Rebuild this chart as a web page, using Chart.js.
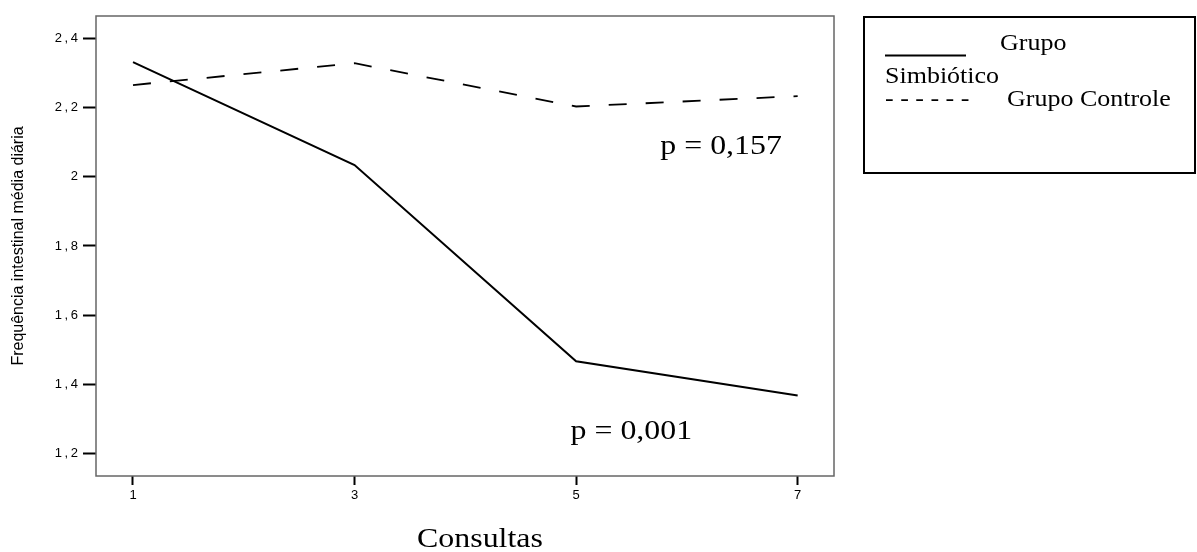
<!DOCTYPE html>
<html>
<head>
<meta charset="utf-8">
<script src="https://cdn.jsdelivr.net/npm/chart.js@4"></script>
<style>
  html, body { margin: 0; padding: 0; background: #fff; }
  #wrap { width: 1197px; height: 552px; position: relative; }
</style>
</head>
<body>
<div id="wrap"><canvas id="freqChart"></canvas></div>
<script>
// values
const consultas = [1, 3, 5, 7];
const simbiotico = [2.331, 2.034, 1.467, 1.368];
const controle = [2.265, 2.328, 2.203, 2.233];
const yTicks = [1.2, 1.4, 1.6, 1.8, 2.0, 2.2, 2.4];
const seriesNames = ["Grupo Simbiótico", "Grupo Controle"];
const xTitle = "Consultas";
const pLabels = ["p = 0,157", "p = 0,001"];
const pAnchors = [[5.76, 2.066], [4.95, 1.243]]; // left / baseline, in data units

function stretchText(ctx, text, x, y, size, sx) {
    ctx.save();
    ctx.translate(x, y);
    ctx.scale(sx, 1);
    ctx.font = size + 'px "Liberation Serif"';
    ctx.fillStyle = "#000";
    ctx.textAlign = "left";
    ctx.textBaseline = "alphabetic";
    ctx.fillText(text, 0, 0);
    ctx.restore();
}

const frame = {
    id: "frame",
    beforeDatasetsDraw(chart) {
        const {ctx, chartArea: a} = chart;
        ctx.save();
        ctx.strokeStyle = "#666";
        ctx.lineWidth = 1.5;
        ctx.strokeRect(a.left, a.top, a.right - a.left, a.bottom - a.top);
        ctx.restore();
    },
    afterDraw(chart) {
        const ctx = chart.ctx;
        const x = chart.scales.x, y = chart.scales.y;
        // p values
        pLabels.forEach((t, i) => {
            stretchText(ctx, t, x.getPixelForValue(pAnchors[i][0]), y.getPixelForValue(pAnchors[i][1]), 27, 1.18);
        });
        // x axis title, sits a bit right of centre in the original
        stretchText(ctx, xTitle, 417, 547, 28, 1.14);
        // legend box
        ctx.save();
        ctx.strokeStyle = "#000";
        ctx.lineWidth = 2;
        ctx.strokeRect(864, 17, 331, 156);
        ctx.beginPath();
        ctx.moveTo(885, 55.5);
        ctx.lineTo(966, 55.5);
        ctx.lineWidth = 2.2;
        ctx.stroke();
        ctx.restore();
        const first = seriesNames[0].split(" ");
        stretchText(ctx, first[0], 1000, 50, 23, 1.13);
        stretchText(ctx, first[1], 885, 83, 23, 1.13);
        stretchText(ctx, "- - - - - -", 885, 106, 23, 1.13);
        stretchText(ctx, seriesNames[1], 1007, 106, 23, 1.13);
    }
};

new Chart("freqChart", {
    type: "line",
    data: {
        datasets: [{
            label: seriesNames[0],
            data: consultas.map((c, i) => ({x: c, y: simbiotico[i]})),
            borderColor: "#000",
            borderWidth: 2,
            pointRadius: 0,
            tension: 0
        }, {
            label: seriesNames[1],
            data: consultas.map((c, i) => ({x: c, y: controle[i]})),
            borderColor: "#000",
            borderWidth: 1.8,
            borderDash: [18, 19],
            pointRadius: 0,
            tension: 0
        }]
    },
    options: {
        responsive: true,
        maintainAspectRatio: false,
        animation: false,
        layout: { padding: { left: 0, top: 16, right: 363, bottom: 0 } },
        plugins: {
            legend: { display: false },
            tooltip: { enabled: false }
        },
        scales: {
            x: {
                type: "linear",
                min: 0.666,
                max: 7.328,
                afterBuildTicks: s => { s.ticks = consultas.map(v => ({value: v})); },
                afterFit: s => { s.height = 76; },
                border: { display: false },
                grid: { display: true, drawOnChartArea: false, drawTicks: true, tickLength: 9, tickColor: "#000", tickWidth: 2 },
                ticks: {
                    padding: 3,
                    color: "#000",
                    font: { family: "Liberation Sans", size: 13 },
                    maxRotation: 0,
                    callback: v => String(v)
                },
                title: { display: false }
            },
            y: {
                min: 1.1356,
                max: 2.4644,
                afterBuildTicks: s => { s.ticks = yTicks.map(v => ({value: v})); },
                afterFit: s => { s.width = 96; },
                border: { display: false },
                grid: { display: true, drawOnChartArea: false, drawTicks: true, tickLength: 13, tickColor: "#000", tickWidth: 2 },
                ticks: {
                    padding: 5,
                    color: "#000",
                    font: { family: "Liberation Sans", size: 13 },
                    callback: v => (Math.round(v * 10) / 10).toString().replace(".", ",").split("").join("\u2009")
                },
                title: {
                    display: true,
                    text: "Frequência intestinal média diária",
                    color: "#000",
                    font: { family: "Liberation Sans", size: 16, lineHeight: 2.3 },
                    padding: 0
                }
            }
        }
    },
    plugins: [frame]
});
</script>
</body>
</html>
